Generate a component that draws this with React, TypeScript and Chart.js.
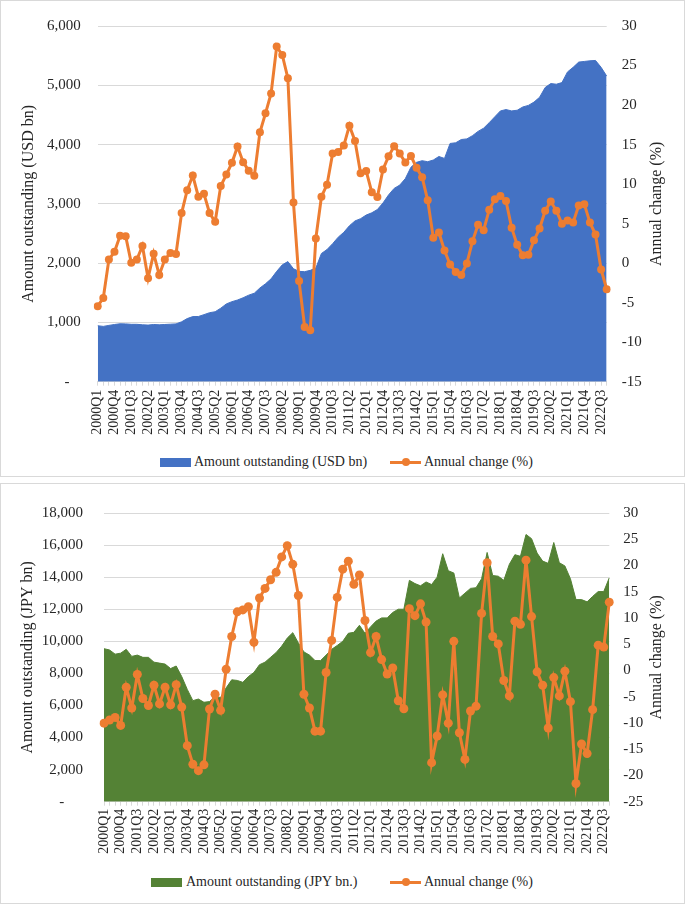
import React, { useEffect, useRef } from "react";
import { Chart, registerables } from "chart.js";

Chart.register(...registerables);

const FONT = '"Liberation Serif", "Times New Roman", serif';
const TEXT = "#262626";
const GRID = "#d9d9d9";
const ORANGE = "#ED7D31";
const BLUE = "#4472C4";
const GREEN = "#548235";

// Categories: 2000Q1 .. 2022Q4
const years = [2000, 2001, 2002, 2003, 2004, 2005, 2006, 2007, 2008, 2009, 2010, 2011, 2012, 2013, 2014, 2015, 2016, 2017, 2018, 2019, 2020, 2021, 2022];
const quarterNames = ["Q1", "Q2", "Q3", "Q4"];
const quarters: string[] = [];
years.forEach((y) => quarterNames.forEach((q) => quarters.push(`${y}${q}`)));
const labelEvery = 3;

// Top panel: USD
const usdAmount = [
  944, 933, 950, 965, 977, 975, 968, 968, 960, 955,
  965, 960, 965, 970, 975, 1010, 1065, 1098, 1100, 1131,
  1164, 1180, 1240, 1312, 1350, 1378, 1416, 1460, 1493, 1581,
  1652, 1735, 1861, 1971, 2026, 1905, 1861, 1856, 1878, 1916,
  2163, 2229, 2328, 2438, 2520, 2630, 2712, 2750, 2811, 2849,
  2904, 3014, 3151, 3261, 3316, 3426, 3618, 3700, 3728, 3711,
  3739, 3799, 3766, 4019, 4030, 4085, 4096, 4150, 4222, 4277,
  4370, 4469, 4568, 4590, 4568, 4579, 4634, 4661, 4716, 4798,
  4963, 5029, 5018, 5045, 5226, 5303, 5391, 5402, 5413, 5419,
  5303, 5155,
];
const usdChange = [
  -5.44, -4.41, 0.45, 1.44, 3.46, 3.4, 0.04, 0.45, 2.18, -1.9,
  1.2, -1.5, 0.45, 1.27, 1.15, 6.34, 9.23, 11.08, 8.4, 8.77,
  6.34, 5.23, 9.76, 11.2, 12.69, 14.75, 12.77, 11.7, 11.04, 16.56,
  18.95, 21.46, 27.4, 26.33, 23.4, 7.66, -2.27, -8.08, -8.49, 3.13,
  8.4, 9.93, 13.88, 14.05, 14.87, 17.39, 15.45, 11.37, 11.66, 8.98,
  8.36, 11.86, 13.51, 14.79, 13.88, 12.73, 13.55, 12.07, 10.88, 7.95,
  3.21, 3.87, 1.6, -0.17, -1.11, -1.49, -0.04, 2.76, 4.86, 4.16,
  6.76, 8.07, 8.49, 7.87, 4.49, 2.31, 0.99, 1.07, 2.88, 4.37,
  6.63, 7.79, 6.63, 4.98, 5.4, 5.15, 7.29, 7.46, 5.15, 3.62,
  -0.8, -3.3,
];

// Bottom panel: JPY
const jpyAmount = [
  9540, 9460, 9200, 9260, 9500, 9060, 9140, 9000, 9000, 8700,
  8640, 8580, 8300, 8460, 7800, 7000, 6300, 6400, 6200, 6240,
  6540, 6500, 7100, 7600, 7560, 7440, 7800, 8060, 8540, 8700,
  9000, 9300, 9700, 10200, 10540, 9900, 9340, 9140, 8800, 8800,
  9140, 9500, 9740, 10000, 10500, 10560, 11000, 10500, 10900, 11260,
  11460, 11460, 11800, 12000, 12000, 13800, 13600, 13460, 13700, 13540,
  14000, 15460, 14400, 14260, 12700, 13000, 13300, 13340, 13900, 15540,
  14100, 14060, 13800, 14800, 15400, 15300, 16660, 16400, 15500, 15000,
  14860, 16160, 14900, 14700, 13900, 12600, 12600, 12460, 12800, 13100,
  13100, 13960,
];
const jpyChange = [
  -10.04, -9.43, -8.94, -10.46, -3.19, -7.16, -0.75, -5.33, -6.67, -2.82,
  -6.37, -3.19, -6.55, -2.7, -6.98, -14.32, -17.86, -19.08, -17.98, -7.35,
  -4.54, -7.59, 0.23, 6.47, 11.17, 11.54, 12.15, 5.37, 13.8, 15.64,
  17.29, 18.69, 21.63, 23.77, 20.22, 14.29, -4.54, -7.16, -11.56, -11.56,
  -0.38, 5.73, 13.92, 19.3, 20.83, 16.43, 18.2, 9.52, 3.41, 6.47,
  2.07, -0.68, 0.48, -5.76, -7.29, 11.78, 10.44, 12.7, 9.22, -17.56,
  -12.48, -4.66, -10.04, 5.55, -11.87, -16.94, -7.71, -6.8, 10.87, 20.53,
  6.47, 5.06, -1.91, -4.84, 9.4, 8.79, 21.01, 10.26, -0.26, -2.82,
  -10.95, -1.36, -4.84, -0.13, -5.94, -21.53, -14.01, -15.84, -7.47, 4.82,
  4.45, 13.01,
];

type Cfg = {
  top: number;
  height: number;
  amount: number[];
  change: number[];
  areaColor: string;
  areaLabel: string;
  leftTitle: string;
  yMax: number;
  yStep: number;
  y1Min: number;
  y1Max: number;
  plotLeft: number;
  plotRight: number;
  plotTop: number;
  plotBottom: number;
  leftTickPad: number;
  rightTickPad: number;
  xTickPad: number;
  leftTitleCenter: number;
  rightTitleX: number;
  zeroLabel: string;
  pointRadius: number;
};

const W = 685;

function DualChart({ c }: { c: Cfg }) {
  const ref = useRef<HTMLCanvasElement>(null);
  useEffect(() => {
    const rightTitle = {
      id: "rightTitle",
      afterDraw(chart: any) {
        const { ctx, chartArea } = chart;
        ctx.save();
        ctx.translate(c.rightTitleX, (chartArea.top + chartArea.bottom) / 2);
        ctx.rotate(-Math.PI / 2);
        ctx.font = `16px ${FONT}`;
        ctx.fillStyle = TEXT;
        ctx.textAlign = "center";
        ctx.textBaseline = "middle";
        ctx.fillText("Annual change (%)", 0, 0);
        ctx.restore();
      },
    };
    const chart = new Chart(ref.current as HTMLCanvasElement, {
      type: "line",
      data: {
        labels: quarters,
        datasets: [
          {
            label: "Annual change (%)",
            data: c.change,
            yAxisID: "y1",
            borderColor: ORANGE,
            backgroundColor: ORANGE,
            borderWidth: 3,
            pointRadius: c.pointRadius,
            pointBackgroundColor: ORANGE,
            pointBorderColor: ORANGE,
            pointBorderWidth: 0,
            fill: false,
            tension: 0,
            order: 0,
          },
          {
            label: c.areaLabel,
            data: c.amount,
            yAxisID: "y",
            borderColor: c.areaColor,
            backgroundColor: c.areaColor,
            borderWidth: 1,
            pointRadius: 0,
            fill: "origin",
            tension: 0,
            order: 1,
          },
        ],
      },
      options: {
        animation: false,
        responsive: true,
        maintainAspectRatio: false,
        layout: { padding: { top: c.plotTop, left: 0, right: 0, bottom: 0 } },
        plugins: { legend: { display: false }, tooltip: { enabled: false } },
        scales: {
          x: {
            type: "category",
            offset: false,
            grid: {
              display: true,
              drawOnChartArea: false,
              drawTicks: true,
              tickLength: 4,
              color: GRID,
            },
            border: { display: true, color: GRID },
            ticks: {
              autoSkip: false,
              maxRotation: 90,
              minRotation: 90,
              padding: c.xTickPad,
              color: TEXT,
              font: { family: FONT, size: 14 },
              callback: (_v: any, i: number) => (i % labelEvery === 0 ? quarters[i] : ""),
            },
            afterFit: (s: any) => {
              s.height = c.height - c.plotBottom;
            },
          },
          y: {
            position: "left",
            min: 0,
            max: c.yMax,
            grid: { color: GRID, drawTicks: false },
            border: { display: false },
            ticks: {
              stepSize: c.yStep,
              padding: c.leftTickPad,
              color: TEXT,
              font: { family: FONT, size: 15 },
              callback: (v: any) => (Number(v) === 0 ? c.zeroLabel : Number(v).toLocaleString("en-US")),
            },
            title: {
              display: true,
              text: c.leftTitle,
              color: TEXT,
              font: { family: FONT, size: 16 },
              padding: { top: c.leftTitleCenter - 9.6, bottom: 0 },
            },
            afterFit: (s: any) => {
              s.width = c.plotLeft;
            },
          },
          y1: {
            position: "right",
            min: c.y1Min,
            max: c.y1Max,
            grid: { drawOnChartArea: false, drawTicks: false },
            border: { display: false },
            ticks: {
              stepSize: 5,
              padding: c.rightTickPad,
              color: TEXT,
              font: { family: FONT, size: 15 },
            },
            afterFit: (s: any) => {
              s.width = W - c.plotRight;
            },
          },
        },
      } as any,
      plugins: [rightTitle],
    });
    return () => chart.destroy();
  }, []);
  return (
    <div style={{ position: "absolute", left: 0, top: c.top, width: W, height: c.height }}>
      <canvas ref={ref} />
    </div>
  );
}

function Legend({ y, boxLeft, textLeft, areaColor, areaText, lineLeft, lineText }: any) {
  const txt: React.CSSProperties = {
    position: "absolute",
    top: y - 9,
    height: 18,
    lineHeight: "18px",
    fontFamily: FONT,
    fontSize: 14,
    color: TEXT,
    whiteSpace: "nowrap",
  };
  return (
    <>
      <div style={{ position: "absolute", left: boxLeft, top: y - 4.5, width: 31, height: 9, background: areaColor }} />
      <span style={{ ...txt, left: textLeft }}>{areaText}</span>
      <div style={{ position: "absolute", left: lineLeft, top: y - 1.5, width: 31, height: 3, background: ORANGE }} />
      <div style={{ position: "absolute", left: lineLeft + 11.5, top: y - 4, width: 8, height: 8, borderRadius: 4, background: ORANGE }} />
      <span style={{ ...txt, left: lineLeft + 34 }}>{lineText}</span>
    </>
  );
}

const topCfg: Cfg = {
  top: 0,
  height: 450,
  amount: usdAmount,
  change: usdChange,
  areaColor: BLUE,
  areaLabel: "Amount outstanding (USD bn)",
  leftTitle: "Amount outstanding (USD bn)",
  yMax: 6000,
  yStep: 1000,
  y1Min: -15,
  y1Max: 30,
  plotLeft: 97.7,
  plotRight: 606.7,
  plotTop: 17.5,
  plotBottom: 381.7,
  leftTickPad: 17,
  rightTickPad: 15,
  xTickPad: 4,
  leftTitleCenter: 29,
  rightTitleX: 657,
  zeroLabel: "-   ",
  pointRadius: 4,
};

const bottomCfg: Cfg = {
  top: 483,
  height: 380,
  amount: jpyAmount,
  change: jpyChange,
  areaColor: GREEN,
  areaLabel: "Amount outstanding (JPY bn.)",
  leftTitle: "Amount outstanding (JPY bn)",
  yMax: 18000,
  yStep: 2000,
  y1Min: -25,
  y1Max: 30,
  plotLeft: 104,
  plotRight: 609.3,
  plotTop: 18.7,
  plotBottom: 318.7,
  leftTickPad: 21,
  rightTickPad: 14,
  xTickPad: 3,
  leftTitleCenter: 28,
  rightTitleX: 657,
  zeroLabel: "-     ",
  pointRadius: 4.5,
};

export default function App() {
  return (
    <div style={{ position: "absolute", left: 0, top: 0, width: W, height: 904, background: "#fff", overflow: "hidden" }}>
      <div style={{ position: "absolute", left: 0, top: 0, width: W, height: 477, border: `1px solid ${GRID}`, boxSizing: "border-box" }} />
      <div style={{ position: "absolute", left: 0, top: 483, width: W, height: 421, border: `1px solid ${GRID}`, boxSizing: "border-box" }} />
      <DualChart c={topCfg} />
      <DualChart c={bottomCfg} />
      <Legend
        y={462}
        boxLeft={160}
        textLeft={194}
        areaColor={BLUE}
        areaText="Amount outstanding (USD bn)"
        lineLeft={390}
        lineText="Annual change (%)"
      />
      <Legend
        y={882}
        boxLeft={151}
        textLeft={186}
        areaColor={GREEN}
        areaText="Amount outstanding (JPY bn.)"
        lineLeft={390}
        lineText="Annual change (%)"
      />
    </div>
  );
}
